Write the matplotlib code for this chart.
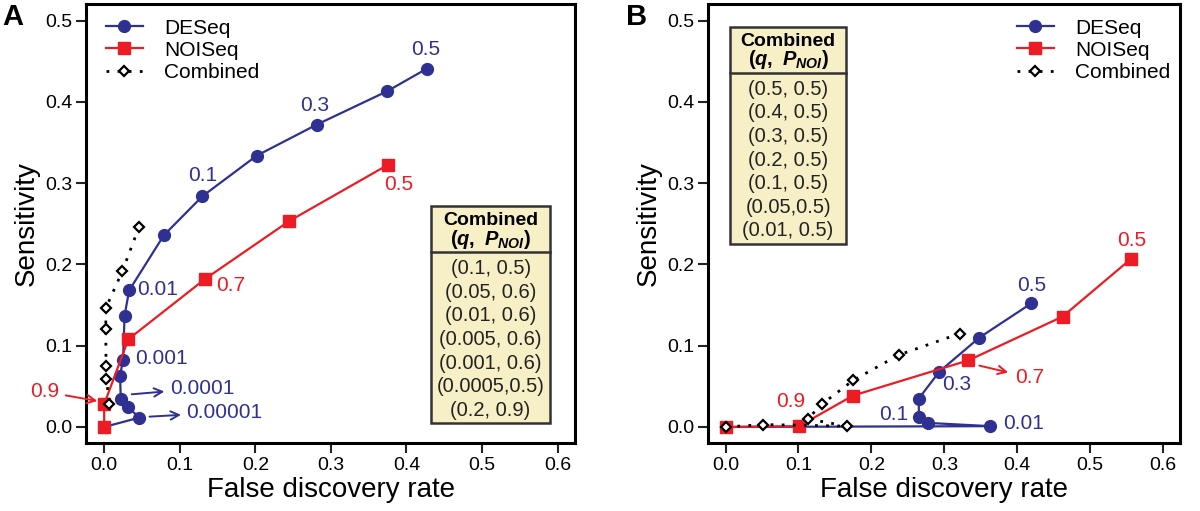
import matplotlib
matplotlib.use("Agg")
import matplotlib.pyplot as plt
from matplotlib.patches import Rectangle

plt.rcParams['font.family'] = ['Liberation Sans', 'DejaVu Sans']
plt.rcParams['mathtext.fontset'] = 'custom'
plt.rcParams['mathtext.it'] = 'Liberation Sans:italic:bold'
plt.rcParams['mathtext.bf'] = 'Liberation Sans:bold'
plt.rcParams['mathtext.rm'] = 'Liberation Sans:bold'

BLUE = '#2E3192'
RED = '#ED1C24'

# ---- panel A data ----
a_deseq_fdr = [0.0, 0.0465, 0.032, 0.022, 0.021, 0.025, 0.027, 0.033, 0.079, 0.130, 0.202, 0.281, 0.374, 0.427]
a_deseq_sens = [0.0, 0.0115, 0.024, 0.034, 0.063, 0.083, 0.137, 0.168, 0.236, 0.284, 0.334, 0.372, 0.413, 0.441]
a_noiseq_fdr = [0.0, 0.0, 0.032, 0.134, 0.245, 0.375]
a_noiseq_sens = [0.0, 0.028, 0.108, 0.1825, 0.2535, 0.3224]
a_comb_fdr = [0.046, 0.024, 0.0025, 0.002, 0.0025, 0.003, 0.007]
a_comb_sens = [0.246, 0.1915, 0.147, 0.120, 0.0755, 0.059, 0.028]
a_table = ['(0.1, 0.5)', '(0.05, 0.6)', '(0.01, 0.6)', '(0.005, 0.6)',
           '(0.001, 0.6)', '(0.0005,0.5)', '(0.2, 0.9)']

# ---- panel B data ----
b_deseq_fdr = [0.0, 0.363, 0.2775, 0.265, 0.265, 0.293, 0.348, 0.419]
b_deseq_sens = [0.0, 0.001, 0.005, 0.012, 0.035, 0.068, 0.110, 0.152]
b_noiseq_fdr = [0.0, 0.1008, 0.1747, 0.333, 0.462, 0.556]
b_noiseq_sens = [0.0, 0.001, 0.0386, 0.082, 0.1358, 0.207]
b_comb_fdr = [0.321, 0.2375, 0.175, 0.132, 0.113, 0.166, 0.052, 0.0]
b_comb_sens = [0.115, 0.0886, 0.0574, 0.028, 0.010, 0.001, 0.003, 0.0]
b_table = ['(0.5, 0.5)', '(0.4, 0.5)', '(0.3, 0.5)', '(0.2, 0.5)',
           '(0.1, 0.5)', '(0.05,0.5)', '(0.01, 0.5)']

ticks_x = [0.0, 0.1, 0.2, 0.3, 0.4, 0.5, 0.6]
ticks_y = [0.0, 0.1, 0.2, 0.3, 0.4, 0.5]

fig = plt.figure(figsize=(12, 5.11), dpi=100)
axA = fig.add_axes([0.0717, 0.1331, 0.4075, 0.859])
axB = fig.add_axes([0.590, 0.1331, 0.3933, 0.859])


def base(ax, deseq, noiseq, comb):
    ax.plot(*deseq, '-o', color=BLUE, lw=1.6, ms=8.5, mfc=BLUE, mec=BLUE,
            label='DESeq', zorder=3)
    ax.plot(*noiseq, '-s', color=RED, lw=1.6, ms=8, mfc=RED, mec=RED,
            label='NOISeq', zorder=4)
    ax.plot(*comb, ls=(0, (1, 3)), color='black', lw=2, marker='D', ms=5.5,
            mfc='white', mec='black', mew=1.6, label='Combined', zorder=5)
    ax.set_xlim(-0.024, 0.623)
    ax.set_ylim(-0.0197, 0.5205)
    ax.set_xticks(ticks_x)
    ax.set_yticks(ticks_y)
    ax.set_xticklabels([f'{t:.1f}' for t in ticks_x])
    ax.set_yticklabels([f'{t:.1f}' for t in ticks_y])
    ax.tick_params(labelsize=14, length=7, width=1.5, pad=3, color='#222222')
    for s in ax.spines.values():
        s.set_linewidth(2.2)
    ax.set_xlabel('False discovery rate', fontsize=20, labelpad=2)
    ax.set_ylabel('Sensitivity', fontsize=20, labelpad=4)


def table(ax, x0, x1, y0, y1, ysep, rows):
    ax.add_patch(Rectangle((x0, y0), x1 - x0, y1 - y0, facecolor='#F7EFC5',
                           edgecolor='#333333', lw=1.8, zorder=6))
    ax.plot([x0, x1], [ysep, ysep], color='#333333', lw=1.8, zorder=7)
    xc = (x0 + x1) / 2
    h = y1 - ysep
    ax.text(xc, y1 - 0.32 * h, 'Combined', ha='center', va='center',
            fontsize=14, fontweight='bold', zorder=8)
    ax.text(xc, y1 - 0.72 * h, r'$\mathbf{(}\mathit{q}\mathbf{,\ }\mathit{P}_{\mathit{NOI}}\mathbf{)}$',
            ha='center', va='center', fontsize=14.5, zorder=8)
    step = (ysep - y0) / (len(rows) + 0.25)
    for i, r in enumerate(rows):
        ax.text(xc, ysep - step * (i + 0.7), r, ha='center', va='center',
                fontsize=14.5, color='#222222', zorder=8)


# ---------- panel A ----------
base(axA, (a_deseq_fdr, a_deseq_sens), (a_noiseq_fdr, a_noiseq_sens),
     (a_comb_fdr, a_comb_sens))
axA.legend(loc='upper left', frameon=False, fontsize=15, handlelength=1.8,
           handletextpad=1.0, labelspacing=0.15, borderaxespad=0.3,
           bbox_to_anchor=(0.01, 1.0))
table(axA, 0.432, 0.5905, 0.0045, 0.272, 0.215, a_table)

kw = dict(fontsize=15)
axA.text(0.426, 0.465, '0.5', color=BLUE, ha='center', va='center', **kw)
axA.text(0.279, 0.396, '0.3', color=BLUE, ha='center', va='center', **kw)
axA.text(0.130, 0.310, '0.1', color=BLUE, ha='center', va='center', **kw)
axA.text(0.044, 0.1686, '0.01', color=BLUE, ha='left', va='center', **kw)
axA.text(0.041, 0.084, '0.001', color=BLUE, ha='left', va='center', **kw)
axA.annotate('0.0001', xy=(0.0364, 0.0402), xytext=(0.087, 0.0476),
             color=BLUE, ha='left', va='center',
             arrowprops=dict(arrowstyle='<-', color=BLUE, lw=1.4,
                             shrinkA=2, shrinkB=0), **kw)
axA.annotate('0.00001', xy=(0.060, 0.0127), xytext=(0.109, 0.018),
             color=BLUE, ha='left', va='center',
             arrowprops=dict(arrowstyle='<-', color=BLUE, lw=1.4,
                             shrinkA=2, shrinkB=0), **kw)
axA.text(0.390, 0.298, '0.5', color=RED, ha='center', va='center', **kw)
axA.text(0.148, 0.1747, '0.7', color=RED, ha='left', va='center', **kw)
axA.annotate('0.9', xy=(-0.009, 0.032), xytext=(-0.060, 0.0435),
             color=RED, ha='right', va='center', annotation_clip=False,
             arrowprops=dict(arrowstyle='->', color=RED, lw=1.4,
                             shrinkA=3, shrinkB=0), **kw)

# ---------- panel B ----------
base(axB, (b_deseq_fdr, b_deseq_sens), (b_noiseq_fdr, b_noiseq_sens),
     (b_comb_fdr, b_comb_sens))
axB.legend(loc='upper right', frameon=False, fontsize=15, handlelength=1.8,
           handletextpad=1.0, labelspacing=0.15, borderaxespad=0.3,
           bbox_to_anchor=(1.01, 1.0))
table(axB, 0.006, 0.1656, 0.2252, 0.4926, 0.436, b_table)

axB.text(0.420, 0.174, '0.5', color=BLUE, ha='center', va='center', **kw)
axB.text(0.3175, 0.0517, '0.3', color=BLUE, ha='center', va='center', **kw)
axB.text(0.231, 0.0148, '0.1', color=BLUE, ha='center', va='center', **kw)
axB.text(0.381, 0.004, '0.01', color=BLUE, ha='left', va='center', **kw)
axB.text(0.557, 0.230, '0.5', color=RED, ha='center', va='center', **kw)
axB.text(0.089, 0.031, '0.9', color=RED, ha='center', va='center', **kw)
axB.annotate('0.7', xy=(0.348, 0.0755), xytext=(0.397, 0.061),
             color=RED, ha='left', va='center',
             arrowprops=dict(arrowstyle='<-', color=RED, lw=1.4,
                             shrinkA=3, shrinkB=0), **kw)

fig.text(0.002, 0.995, 'A', fontsize=21, fontweight='bold', ha='left', va='top')
fig.text(0.522, 0.995, 'B', fontsize=21, fontweight='bold', ha='left', va='top')

fig.savefig('out.png', dpi=100)
